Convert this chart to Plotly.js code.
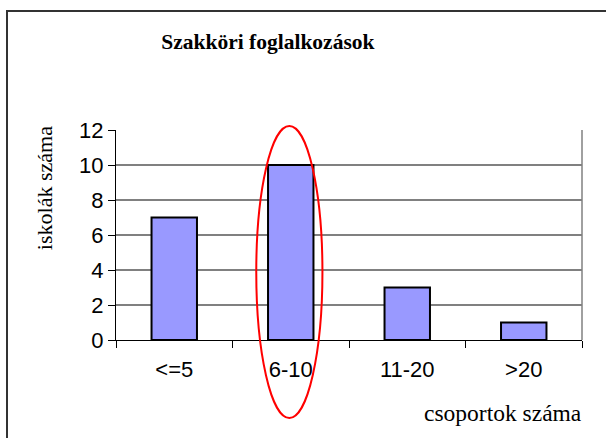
<!DOCTYPE html>
<html>
<head>
<meta charset="utf-8">
<script src="https://cdn.plot.ly/plotly-3.0.1.min.js"></script>
<style>
html,body{margin:0;padding:0;width:606px;height:438px;overflow:hidden;background:#fff;}
#chart{width:606px;height:438px;position:absolute;left:0;top:0;}
#frame{position:absolute;left:6px;top:10px;width:640px;height:500px;border:2px solid #333;pointer-events:none;}
</style>
</head>
<body>
<div id="chart"></div>
<div id="frame"></div>
<script>
const categories = ["<=5", "6-10", "11-20", ">20"];
const schoolCounts = [7, 10, 3, 1];
const yTicks = [0, 2, 4, 6, 8, 10, 12];
const chartTitle = "Szakköri foglalkozások";
const xTitle = "csoportok száma";
const yTitle = "iskolák száma";

const trace = {
  type: "bar",
  x: categories,
  y: schoolCounts,
  width: 0.39,
  marker: {color: "#9999FF", line: {color: "#000", width: 2}},
  hoverinfo: "none"
};

const layout = {
  width: 606, height: 438,
  margin: {l: 116, r: 24, t: 130, b: 98},
  paper_bgcolor: "#fff", plot_bgcolor: "#fff",
  showlegend: false,
  title: {
    text: "<b>" + chartTitle + "</b>",
    font: {family: "Liberation Serif, Times New Roman, serif", size: 21.5, color: "#000"},
    x: 0.442, xanchor: "center", y: 0.905, yanchor: "middle"
  },
  xaxis: {
    type: "category",
    tickson: "boundaries",
    ticks: "outside", ticklen: 7, tickwidth: 1, tickcolor: "#000",
    showline: true, linecolor: "#000", linewidth: 1,
    showgrid: false,
    tickfont: {family: "Liberation Sans, Arial, sans-serif", size: 22, color: "#000"},
    ticklabelstandoff: 10,
    range: [-0.5, 3.5]
  },
  yaxis: {
    range: [0, 12],
    tickvals: yTicks,
    ticks: "outside", ticklen: 7, tickwidth: 1, tickcolor: "#000",
    showline: true, linecolor: "#000", linewidth: 1,
    showgrid: true, gridcolor: "#808080", gridwidth: 1.5,
    zeroline: false,
    tickfont: {family: "Liberation Sans, Arial, sans-serif", size: 22, color: "#000"}
  },
  annotations: [
    {text: yTitle, xref: "paper", yref: "paper", x: -0.152, y: 0.724,
     xanchor: "center", yanchor: "middle", textangle: -90, showarrow: false,
     font: {family: "Liberation Serif, Times New Roman, serif", size: 22, color: "#000"}},
    {text: xTitle, xref: "paper", yref: "paper", x: 1.004, y: -0.348,
     xanchor: "right", yanchor: "middle", showarrow: false,
     font: {family: "Liberation Serif, Times New Roman, serif", size: 23.5, color: "#000"}}
  ],
  shapes: [
    {type: "line", xref: "x domain", yref: "y domain", x0: 1, x1: 1, y0: 0, y1: 1,
     line: {color: "#808080", width: 1.5}},
    {type: "circle", xref: "x domain", yref: "y domain", x0: 0.301, x1: 0.443, y0: -0.371, y1: 1.019,
     line: {color: "#FF0000", width: 2}, layer: "above"}
  ]
};

Plotly.newPlot("chart", [trace], layout, {staticPlot: true, displayModeBar: false});
</script>
</body>
</html>
